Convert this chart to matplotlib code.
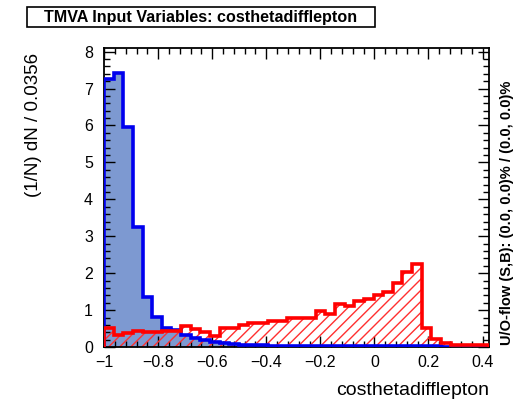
import numpy as np
import matplotlib.pyplot as plt
from matplotlib.patches import Rectangle
from matplotlib.ticker import MultipleLocator

plt.rcParams['font.family'] = ['Liberation Sans', 'DejaVu Sans']
plt.rcParams['hatch.linewidth'] = 1.0

# 40 bins of width 0.0356 starting at -1
x_lo = -1.0
bin_w = 0.0356
n_bins = 40

signal = [7.26, 7.42, 5.97, 3.25, 1.35, 0.82, 0.52, 0.46, 0.33, 0.25,
          0.20, 0.14, 0.10, 0.09, 0.07, 0.05, 0.05, 0.04, 0.04, 0.03,
          0.03, 0.03, 0.03, 0.03, 0.03, 0.03, 0.03, 0.03, 0.03, 0.02,
          0.02, 0.02, 0.02, 0.02, 0.02, 0.01, 0.0, 0.0, 0.0, 0.0]
background = [0.52, 0.33, 0.37, 0.45, 0.42, 0.42, 0.44, 0.44, 0.58, 0.50,
              0.42, 0.30, 0.52, 0.52, 0.60, 0.66, 0.66, 0.72, 0.72, 0.78,
              0.78, 0.79, 0.97, 0.89, 1.17, 1.11, 1.24, 1.30, 1.40, 1.49,
              1.74, 2.04, 2.25, 0.52, 0.23, 0.11, 0.06, 0.05, 0.05, 0.05]

edges = x_lo + bin_w * np.arange(n_bins + 1)

fig = plt.figure(figsize=(5.18, 3.99), dpi=100)
ax = fig.add_axes([0.201, 0.13, 0.743, 0.75])

# signal: filled blue histogram
ax.stairs(signal, edges, fill=True, color='#7d99d1', zorder=1)
ax.stairs(signal, edges, color='#0000ee', linewidth=2.6, zorder=3)
# background: red hatched histogram
ax.stairs(background, edges, fill=True, facecolor='none', edgecolor='#ff3030',
          hatch='///', linewidth=0, zorder=2)
ax.stairs(background, edges, color='#ff0000', linewidth=2.6, zorder=4)

ax.set_xlim(edges[0], edges[-1])
ax.set_ylim(0, 8.1)

ax.xaxis.set_major_locator(MultipleLocator(0.2))
ax.xaxis.set_minor_locator(MultipleLocator(0.04))
ax.yaxis.set_major_locator(MultipleLocator(1))
ax.yaxis.set_minor_locator(MultipleLocator(0.2))
ax.tick_params(which='both', direction='in', top=True, right=True,
               labelsize=11.5, width=1)
ax.tick_params(which='major', length=8)
ax.tick_params(which='minor', length=4)
ax.tick_params(axis='x', pad=6)
ax.tick_params(axis='y', pad=8)
ax.set_xticks(np.arange(-1.0, 0.41, 0.2))
ax.set_xticklabels(['\u22121', '\u22120.8', '\u22120.6', '\u22120.4',
                    '\u22120.2', '0', '0.2', '0.4'])
for sp in ax.spines.values():
    sp.set_linewidth(1.3)

ax.set_xlabel('costhetadifflepton', fontsize=14, loc='right', labelpad=8)
ax.set_ylabel('(1/N) dN / 0.0356', fontsize=13.5, loc='top', va='center')
ax.yaxis.set_label_coords(-0.184, 0.982)

fig.text(0.979, 0.135, 'U/O-flow (S,B): (0.0, 0.0)% / (0.0, 0.0)%',
         rotation=90, fontsize=10.5, fontweight='bold', ha='center', va='bottom')

# title box
fig.add_artist(Rectangle((0.052, 0.932), 0.672, 0.05, transform=fig.transFigure,
                         facecolor='white', edgecolor='black', linewidth=1.2))
fig.text(0.388, 0.957, 'TMVA Input Variables: costhetadifflepton',
         fontsize=11.6, fontweight='bold', ha='center', va='center')

fig.savefig('out.png', dpi=100)
